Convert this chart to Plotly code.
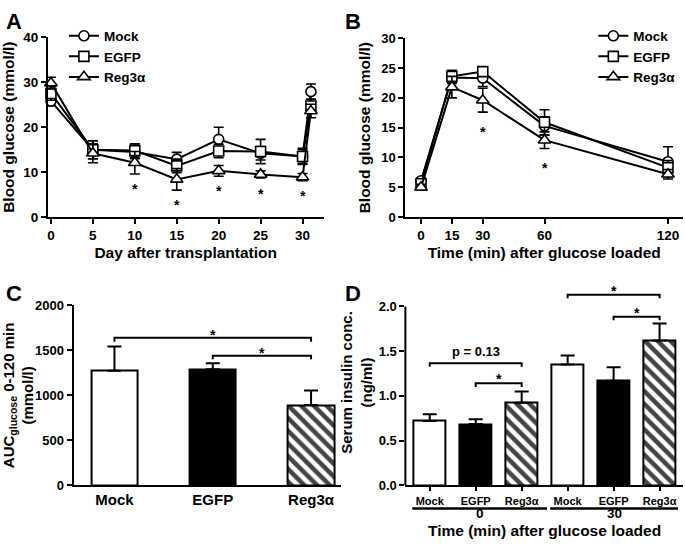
import plotly.graph_objects as go

# ---------------- data ----------------
groups = ["Mock", "EGFP", "Reg3α"]

# Panel A
days = [0, 5, 10, 15, 20, 25, 30, 31]
a_mock = [25.8, 15.0, 14.5, 12.9, 17.3, 14.2, 13.5, 27.9]
a_mock_err = [1.0, 2.0, 1.5, 1.5, 2.7, 1.5, 1.5, 1.7]
a_egfp = [27.5, 15.0, 14.8, 11.4, 14.7, 14.6, 13.5, 24.7]
a_egfp_err = [1.5, 2.0, 1.5, 1.5, 1.5, 2.7, 1.8, 1.5]
a_reg = [29.8, 14.2, 12.1, 8.4, 10.3, 9.5, 8.9, 23.6]
a_reg_err = [1.3, 2.1, 2.5, 2.4, 1.2, 0.8, 0.8, 1.5]
a_star_x = [10, 15, 20, 25, 30]
a_star_y = [6.9, 3.5, 6.5, 5.8, 5.5]

# Panel B
minutes = [0, 15, 30, 60, 120]
b_mock = [6.1, 23.4, 23.3, 15.3, 9.3]
b_mock_err = [0.5, 1.0, 1.4, 1.5, 2.5]
b_egfp = [5.6, 23.6, 24.4, 15.9, 8.3]
b_egfp_err = [0.5, 1.0, 0.7, 2.1, 1.2]
b_reg = [5.0, 21.8, 19.6, 12.9, 7.2]
b_reg_err = [0.5, 1.8, 2.0, 1.4, 0.8]
b_star_x = [30, 60]
b_star_y = [14.8, 8.7]

# Panel C
c_auc = [1275, 1290, 893]
c_err = [268, 68, 160]

# Panel D
d_labels = ["Mock", "EGFP", "Reg3α", "Mock", "EGFP", "Reg3α"]
d_times = ["0", "30"]
d_ins = [0.72, 0.685, 0.924, 1.35, 1.17, 1.62]
d_err = [0.075, 0.055, 0.125, 0.10, 0.15, 0.19]

FONT = "Liberation Sans, Arial, sans-serif"
BLACK = "black"

fig = go.Figure()

symbols = ["circle", "square", "triangle-up"]


def add_lines(x, ys, errs, xa, ya, legend):
    for name, y, e, s in zip(groups, ys, errs, symbols):
        fig.add_trace(go.Scatter(
            x=x, y=y, name=name, mode="lines+markers",
            xaxis=xa, yaxis=ya, legend=legend,
            line=dict(color=BLACK, width=2),
            marker=dict(symbol=s, size=10 if s != "triangle-up" else 11,
                        color="white", line=dict(color=BLACK, width=1.6)),
            error_y=dict(type="data", array=e, visible=True, color=BLACK,
                         thickness=1.6, width=5),
            cliponaxis=False,
        ))


add_lines(days, [a_mock, a_egfp, a_reg], [a_mock_err, a_egfp_err, a_reg_err], "x", "y", "legend")
add_lines(minutes, [b_mock, b_egfp, b_reg], [b_mock_err, b_egfp_err, b_reg_err], "x2", "y2", "legend2")

pattern = dict(fgcolor=BLACK, fgopacity=1, size=9, solidity=0.5)

# Panel C bars
fig.add_trace(go.Bar(
    x=[0, 1, 2], y=c_auc, xaxis="x3", yaxis="y3", width=0.47, showlegend=False,
    marker=dict(color=["white", "black", "white"], line=dict(color=BLACK, width=2),
                pattern=dict(shape=["", "", "\\"], **pattern)),
    error_y=dict(type="data", array=c_err, arrayminus=[0] * 3, symmetric=False,
                 color=BLACK, thickness=2, width=7),
))

# Panel D bars
fig.add_trace(go.Bar(
    x=list(range(6)), y=d_ins, xaxis="x4", yaxis="y4", width=0.7, showlegend=False,
    marker=dict(color=["white", "black", "white"] * 2, line=dict(color=BLACK, width=2),
                pattern=dict(shape=["", "", "\\"] * 2, **pattern)),
    error_y=dict(type="data", array=d_err, arrayminus=[0] * 6, symmetric=False,
                 color=BLACK, thickness=2, width=7),
))


def f(size):
    return dict(family=FONT, size=size, color=BLACK, weight="bold")


axis_common = dict(showline=True, linecolor=BLACK, linewidth=2, ticks="outside",
                   tickcolor=BLACK, tickwidth=2, ticklen=5, showgrid=False,
                   zeroline=False)

fig.update_layout(
    width=685, height=555, margin=dict(l=0, r=0, t=0, b=0),
    paper_bgcolor="white", plot_bgcolor="white",
    font=dict(family=FONT, color=BLACK),
    xaxis=dict(domain=[0.0686, 0.4715], range=[-0.36, 32.5], anchor="y",
               tickvals=[0, 5, 10, 15, 20, 25, 30], tickfont=f(13.5),
               title=dict(text="Day after transplantation", standoff=5, font=f(15.5)), **axis_common),
    yaxis=dict(domain=[0.6108, 0.9441], range=[0, 40], anchor="x",
               tickvals=[0, 10, 20, 30, 40], tickfont=f(13.5),
               title=dict(text="Blood glucose (mmol/l)", standoff=7, font=f(15.5)), **axis_common),
    xaxis2=dict(domain=[0.5912, 0.9971], range=[-7.6, 127.3], anchor="y2",
                tickvals=[0, 15, 30, 60, 120], tickfont=f(13.5),
                title=dict(text="Time (min) after glucose loaded", standoff=5, font=f(15.5)), **axis_common),
    yaxis2=dict(domain=[0.6108, 0.9423], range=[0, 30], anchor="x2",
                tickvals=[0, 5, 10, 15, 20, 25, 30], tickfont=f(13),
                title=dict(text="Blood glucose (mmol/l)", standoff=7, font=f(15.5)), **axis_common),
    xaxis3=dict(domain=[0.1061, 0.4964], range=[-0.416, 2.3], anchor="y3",
                tickvals=[0, 1, 2], ticktext=groups, tickfont=f(15),
                **{k: v for k, v in axis_common.items() if k != "ticks"}, ticks=""),
    yaxis3=dict(domain=[0.1141, 0.4474], range=[0, 2000], anchor="x3",
                tickvals=[0, 500, 1000, 1500, 2000], tickfont=f(13),
                title=dict(text="AUC<sub>glucose</sub> 0-120 min<br>(mmol/l)", standoff=2, font=f(15)),
                **axis_common),
    xaxis4=dict(domain=[0.5912, 0.9971], range=[-0.53, 5.51], anchor="y4",
                tickvals=list(range(6)), ticktext=d_labels, tickfont=f(11), ticklen=4,
                **{k: v for k, v in axis_common.items() if k != "ticklen"}),
    yaxis4=dict(domain=[0.1141, 0.4953], range=[0, 2.3], anchor="x4",
                tickvals=[0, 0.5, 1.0, 1.5, 2.0], tickformat=".1f", tickfont=f(13),
                title=dict(text="Serum insulin conc.<br>(ng/ml)", standoff=2, font=f(15)),
                **{k: v for k, v in axis_common.items() if k != "showline"}, showline=False),
    legend=dict(x=0.092, y=0.975, xanchor="left", yanchor="top", bgcolor="rgba(0,0,0,0)",
                font=f(13.5), tracegroupgap=0, itemwidth=30),
    legend2=dict(x=0.866, y=0.975, xanchor="left", yanchor="top", bgcolor="rgba(0,0,0,0)",
                 font=f(13.5), tracegroupgap=0, itemwidth=30),
    bargap=0,
)

shapes = []
annotations = []

# D y-axis line only up to 2.0
shapes.append(dict(type="line", xref="x4 domain", yref="y4", x0=0, x1=0, y0=0, y1=2.0,
                   line=dict(color=BLACK, width=2)))


def bracket(xref, yref, xa, xb, y, drop, label, label_y, size=14):
    shapes.append(dict(type="path", xref=xref, yref=yref,
                       path=f"M {xa},{y - drop} L {xa},{y} L {xb},{y} L {xb},{y - drop}",
                       line=dict(color=BLACK, width=2)))
    annotations.append(dict(xref=xref, yref=yref, x=(xa + xb) / 2, y=label_y, text=label,
                            yanchor="middle", showarrow=False, font=f(size)))


# C brackets
bracket("x3", "y3", 0, 2, 1640, 45, "*", 1670)
bracket("x3", "y3", 1, 2, 1441, 40, "*", 1470)
# D brackets
bracket("x4", "y4", 0, 2, 1.366, 0.04, "p = 0.13", 1.50, size=13)
bracket("x4", "y4", 1, 2, 1.14, 0.04, "*", 1.185)
bracket("x4", "y4", 3, 5, 2.13, 0.04, "*", 2.17)
bracket("x4", "y4", 4, 5, 1.885, 0.04, "*", 1.93)

# asterisks A & B
for x, y in zip(a_star_x, a_star_y):
    annotations.append(dict(xref="x", yref="y", x=x, y=y - 0.7, text="*", showarrow=False,
                            yanchor="middle", font=f(14)))
for x, y in zip(b_star_x, b_star_y):
    annotations.append(dict(xref="x2", yref="y2", x=x, y=y - 0.5, text="*", showarrow=False,
                            yanchor="middle", font=f(14)))

# D group lines and labels
for (xa, xb), t in zip([(-0.38, 2.55), (2.62, 5.4)], d_times):
    shapes.append(dict(type="line", xref="x4", yref="paper", x0=xa, x1=xb, y0=0.0712, y1=0.0712,
                       line=dict(color=BLACK, width=2.5)))
    annotations.append(dict(xref="x4", yref="paper", x=(xa + xb) / 2, y=0.0625, text=t, showarrow=False,
                            yanchor="middle", font=f(13.5)))
annotations.append(dict(xref="x4 domain", yref="paper", x=0.5, y=0.031, text="Time (min) after glucose loaded",
                        yanchor="middle", showarrow=False, font=f(15.5)))

# panel letters
for letter, x, y in [("A", 0.004, 1.0), ("B", 0.5, 1.0), ("C", 0.004, 0.497), ("D", 0.5, 0.497)]:
    annotations.append(dict(xref="paper", yref="paper", x=x, y=y, xanchor="left", yanchor="top",
                            text=letter, showarrow=False, font=f(22)))

fig.update_layout(shapes=shapes, annotations=annotations)
fig.write_html("out.html", config={"displayModeBar": False},
               post_script="document.body.style.margin='0';")
